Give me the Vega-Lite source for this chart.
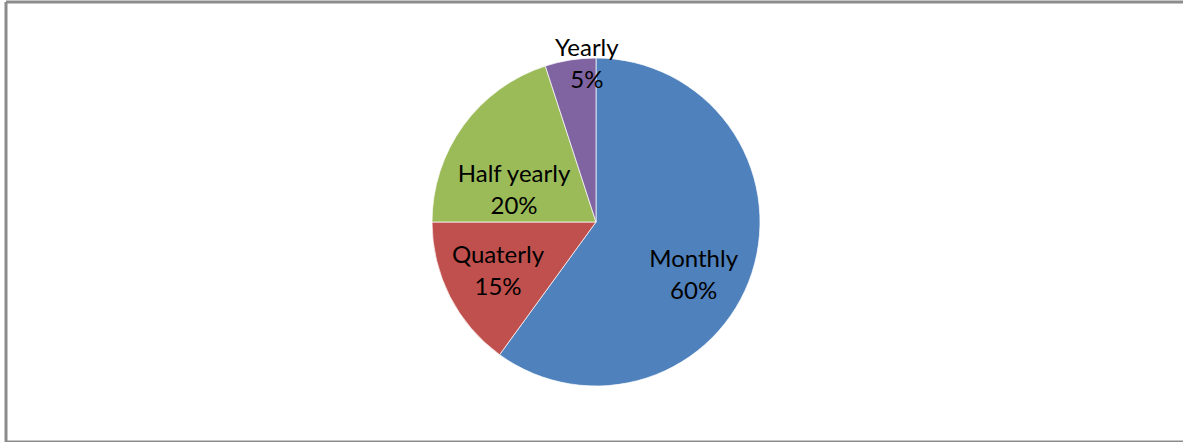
{
  "$schema": "https://vega.github.io/schema/vega-lite/v6.json",
  "width": 1180,
  "height": 440,
  "autosize": {"type": "none"},
  "padding": {"left": 6, "top": 2, "right": 0, "bottom": 0},
  "background": "white",
  "view": {"stroke": "#8c8c8c", "strokeWidth": 3, "fill": "white", "strokeDash": [1180, 440, 1620, 0]},
  "data": {
    "values": [
      {"cat": "Monthly", "value": 60, "ord": 1, "label": "Monthly\n60%"},
      {"cat": "Quaterly", "value": 15, "ord": 2, "label": "Quaterly\n15%"},
      {"cat": "Half yearly", "value": 20, "ord": 3, "label": "Half yearly\n20%"},
      {"cat": "Yearly", "value": 5, "ord": 4, "label": "Yearly\n5%"}
    ]
  },
  "encoding": {
    "theta": {"field": "value", "type": "quantitative", "stack": true},
    "order": {"field": "ord", "type": "quantitative"}
  },
  "layer": [
    {
      "mark": {"type": "arc", "outerRadius": 164, "stroke": "#ffffff", "strokeWidth": 0.7},
      "encoding": {
        "color": {
          "field": "cat",
          "type": "nominal",
          "scale": {
            "domain": ["Monthly", "Quaterly", "Half yearly", "Yearly"],
            "range": ["#4f81bd", "#c0504d", "#9bbb59", "#8064a2"]
          },
          "legend": null
        }
      }
    },
    {
      "mark": {"type": "text", "radius": 110, "font": "Lato", "fontSize": 24, "lineHeight": 32, "lineBreak": "\n", "color": "#000000", "dx": -7, "dy": 4},
      "encoding": {
        "text": {"condition": {"test": "datum.cat === 'Monthly'", "field": "label"}, "value": ""}
      }
    },
    {
      "mark": {"type": "text", "radius": 110, "font": "Lato", "fontSize": 24, "lineHeight": 32, "lineBreak": "\n", "color": "#000000", "dx": 0, "dy": -16},
      "encoding": {
        "text": {"condition": {"test": "datum.cat === 'Quaterly'", "field": "label"}, "value": ""}
      }
    },
    {
      "mark": {"type": "text", "radius": 110, "font": "Lato", "fontSize": 24, "lineHeight": 32, "lineBreak": "\n", "color": "#000000", "dx": 7, "dy": 18},
      "encoding": {
        "text": {"condition": {"test": "datum.cat === 'Half yearly'", "field": "label"}, "value": ""}
      }
    },
    {
      "mark": {"type": "text", "radius": 110, "font": "Lato", "fontSize": 24, "lineHeight": 32, "lineBreak": "\n", "color": "#000000", "dx": 8, "dy": -64},
      "encoding": {
        "text": {"condition": {"test": "datum.cat === 'Yearly'", "field": "label"}, "value": ""}
      }
    }
  ]
}
